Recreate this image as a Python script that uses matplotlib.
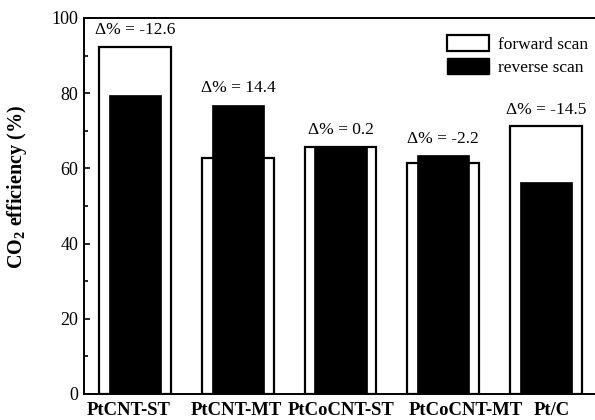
import numpy as np
import matplotlib.pyplot as plt
from matplotlib.patches import Patch
from matplotlib.transforms import ScaledTranslation

plt.rcParams["font.family"] = ["Liberation Serif", "DejaVu Serif"]
plt.rcParams["mathtext.fontset"] = "custom"
plt.rcParams["mathtext.rm"] = "Liberation Serif"
plt.rcParams["mathtext.bf"] = "Liberation Serif:bold"

catalysts = ["PtCNT-ST", "PtCNT-MT", "PtCoCNT-ST", "PtCoCNT-MT", "Pt/C"]
forward = [92.3, 62.8, 65.6, 61.4, 71.2]
reverse = [79.6, 76.9, 65.7, 63.5, 56.5]
delta = ["-12.6", "14.4", "0.2", "-2.2", "-14.5"]

x = np.arange(len(catalysts))

fig = plt.figure(figsize=(5.95, 4.2), dpi=100)
ax = fig.add_axes([84 / 595, 26 / 420, 513 / 595, 376 / 420])

ax.bar(x, forward, width=0.70, color="white", edgecolor="black", linewidth=1.6, zorder=2)
ax.bar(x, reverse, width=0.51, color="black", edgecolor="black", linewidth=0.5, zorder=3)

for xi, f, r, d in zip(x, forward, reverse, delta):
    ax.annotate("Δ% = " + d, (xi, max(f, r)), xytext=(0, 12), textcoords="offset points",
                ha="center", va="center", fontsize=12.5)

ax.set_xlim(-0.5, 4.5)
ax.set_ylim(0, 100)
ax.set_yticks([0, 20, 40, 60, 80, 100])
ax.set_yticks([10, 30, 50, 70, 90], minor=True)
ax.tick_params(axis="y", which="major", direction="in", length=4.5, width=1.2,
               labelsize=13, pad=4)
ax.tick_params(axis="y", which="minor", direction="in", length=3, width=1.2)
ax.set_xticks(x)
ax.set_xticklabels(catalysts, fontweight="bold", fontsize=13.4)
ax.tick_params(axis="x", length=0, pad=6)

# nudge the long labels so they don't run into each other
shifts = [-5, -1.5, 0.5, 16, 4.3]
for lab, dx in zip(ax.get_xticklabels(), shifts):
    lab.set_transform(lab.get_transform() + ScaledTranslation(dx / 72, 0, fig.dpi_scale_trans))

for s in ax.spines.values():
    s.set_linewidth(1.4)

ax.set_ylabel(r"CO$_\mathbf{2}$ efficiency (%)", fontweight="bold", fontsize=14.5)
ax.yaxis.set_label_coords(-0.108, 0.55)

handles = [Patch(facecolor="white", edgecolor="black", linewidth=1.6),
           Patch(facecolor="black", edgecolor="black")]
fig.legend(handles, ["forward scan", "reverse scan"], loc="upper left",
           bbox_to_anchor=(447 / 595, 385 / 420), frameon=False, fontsize=12.5,
           handlelength=2.4, handleheight=1.05, handletextpad=0.55, labelspacing=0.3,
           borderpad=0, borderaxespad=0)

fig.savefig("out.png", dpi=100)
